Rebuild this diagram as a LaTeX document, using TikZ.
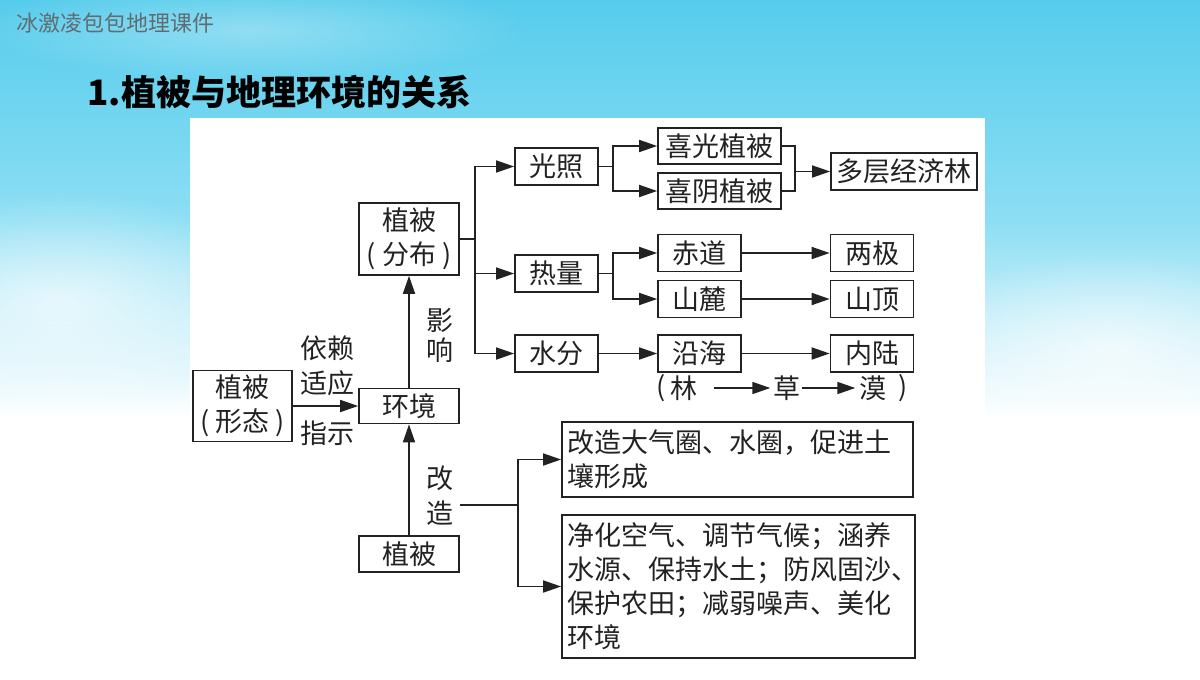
\documentclass[tikz,border=0pt]{standalone}
\usepackage{fontspec}
\newfontfamily\cjk{Noto Sans CJK SC}
\usetikzlibrary{arrows.meta,positioning,fadings}

\definecolor{skydeep}{RGB}{86,204,236}
\definecolor{skymid}{RGB}{140,222,244}
\definecolor{inkgray}{RGB}{34,34,34}
\definecolor{markgray}{RGB}{95,108,114}
\newcommand\boxfont{\cjk\fontsize{27}{34}\selectfont}
\tikzfading[name=softblob, inner color=transparent!20, outer color=transparent!100]

\begin{document}
\begin{tikzpicture}[x=1pt, y=-1pt,
    box/.style = {draw=inkgray, line width=1.7pt, inner sep=0pt, font=\boxfont, text=inkgray, align=center},
    tag/.style = {inner sep=0pt, font=\boxfont, text=inkgray, align=center},
    ln/.style  = {draw=inkgray, line width=1.7pt},
    arr/.style = {ln, -{Triangle[length=18pt,width=12pt]}}
  ]
  \tikzstyle{small}=[box, minimum width=83pt, minimum height=37pt]

  \useasboundingbox (0,0) rectangle (1200,680);
  \fill[white] (0,0) rectangle (1200,680);
  \shade[top color=skydeep, bottom color=skymid] (0,0) rectangle (1200,220);
  \shade[top color=skymid, bottom color=white] (0,220) rectangle (1200,420);
  \fill[white, opacity=.8, path fading=softblob] (1110,350) ellipse [x radius=200pt, y radius=100pt];
  \fill[white, opacity=.8, path fading=softblob] (60,300) ellipse [x radius=220pt, y radius=110pt];
  \fill[white, opacity=.4, path fading=softblob] (250,30) ellipse [x radius=280pt, y radius=50pt];
  \fill[white] (190,118) rectangle (985,680);

  \node[font=\cjk\fontsize{22}{26}\selectfont, text=markgray, anchor=west] (mark) at (13,23) {冰激凌包包地理课件};
  \node[font=\cjk\bfseries\fontsize{35}{40}\selectfont, anchor=west] (title) at (84,92) {1.植被与地理环境的关系};

  \node[box, minimum width=100pt, minimum height=72pt] (fenbu)    at (409,239)   {植被\\( 分布 )};
  \node[box, minimum width=99pt,  minimum height=71pt] (xingtai)  at (242.5,406) {植被\\( 形态 )};
  \node[box, minimum width=100pt, minimum height=35pt] (huanjing) at (409,406)   {环境};
  \node[box, minimum width=100pt, minimum height=36pt] (zhibei)   at (409,554)   {植被};

  \node[small] (guangzhao) at (556.5,166.5) {光照};
  \node[small] (reliang)   at (556.5,273.5) {热量};
  \node[small] (shuifen)   at (556.5,353.5) {水分};

  \node[box, minimum width=123pt, minimum height=36pt] (xiguang) at (719.5,146) {喜光植被};
  \node[box, minimum width=123pt, minimum height=36pt] (xiyin)   at (719.5,191) {喜阴植被};
  \node[box, minimum width=146pt, minimum height=37pt] (duoceng) at (904,171.5)  {多层经济林};

  \node[small] (chidao)   at (699.5,253)   {赤道};
  \node[small] (liangji)  at (872,253)     {两极};
  \node[small] (shanlu)   at (699.5,299)   {山麓};
  \node[small] (shanding) at (872,299)     {山顶};
  \node[small] (yanhai)   at (699.5,353.5) {沿海};
  \node[small] (neilu)    at (872,353.5)   {内陆};

  \node[tag] (lparen) at (661,388) {(};
  \node[tag] (lin)    at (684,388) {林};
  \node[tag] (cao)    at (787,388) {草};
  \node[tag] (mo)     at (873,388) {漠};
  \node[tag] (rparen) at (903,388) {)};

  \node[box, text width=341pt, minimum height=75pt, inner sep=5pt, align=left] (gaizaoA) at (737.5,459.5)
    {改造大气圈、水圈，促进土\\壤形成};
  \node[box, text width=343pt, minimum height=143pt, inner sep=5pt, align=left] (gaizaoB) at (738.5,586.5)
    {净化空气、调节气候；涵养\\水源、保持水土；防风固沙\makebox[0.5em][l]{、}\\保护农田；减弱噪声、美化\\环境};

  \node[tag] (yilai)     at (327,348) {依赖};
  \node[tag] (shiying)   at (327,383) {适应};
  \node[tag] (zhishi)    at (327,433) {指示};
  \node[tag] (yingxiang) at (440,335) {影\\[-4pt]响};
  \node[tag] (gaizao)    at (440,495.5) {改\\[1pt]造};

  \coordinate (fork1) at (475,239);
  \coordinate (fork2) at (613,166.5);
  \coordinate (join)  at (795,171.5);
  \coordinate (fork3) at (613,273.5);
  \coordinate (gzout) at (460,505);
  \coordinate (fork4) at (518,505);

  \draw[ln]  (fenbu.east) -- (fork1);
  \draw[arr] (fork1) |- (guangzhao.west);
  \draw[arr] (fork1) |- (reliang.west);
  \draw[arr] (fork1) |- (shuifen.west);

  \draw[ln]  (guangzhao.east) -- (fork2);
  \draw[arr] (fork2) |- (xiguang.west);
  \draw[arr] (fork2) |- (xiyin.west);
  \draw[ln]  (xiguang.east) -| (join) |- (xiyin.east);
  \draw[arr] (join) -- (duoceng.west);

  \draw[ln]  (reliang.east) -- (fork3);
  \draw[arr] (fork3) |- (chidao.west);
  \draw[arr] (fork3) |- (shanlu.west);
  \draw[arr] (chidao) -- (liangji);
  \draw[arr] (shanlu) -- (shanding);
  \draw[arr] (shuifen) -- (yanhai);
  \draw[arr] (yanhai) -- (neilu);
  \draw[arr, shorten <=16pt, shorten >=3pt] (lin.east) -- (cao.west);
  \draw[arr, shorten <=1pt, shorten >=4pt] (cao.east) -- (mo.west);

  \draw[arr] (xingtai) -- (huanjing);
  \draw[arr] (huanjing) -- (fenbu);
  \draw[arr] (zhibei) -- (huanjing);

  \draw[ln]  (gzout) -- (fork4);
  \draw[arr] (fork4) |- (gaizaoA.west);
  \draw[arr] (fork4) |- (gaizaoB.west);
\end{tikzpicture}
\end{document}
